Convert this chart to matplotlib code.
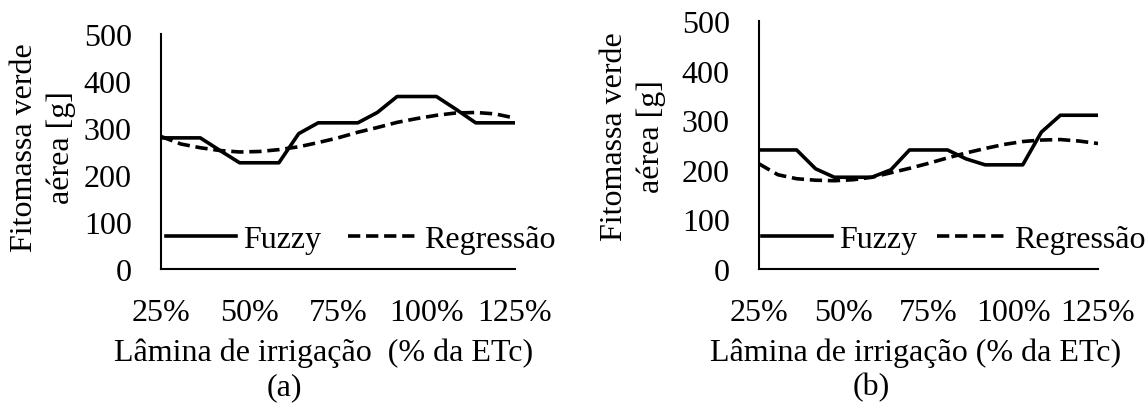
import matplotlib
matplotlib.use('Agg')
import matplotlib.pyplot as plt

plt.rcParams['font.family'] = ['Liberation Serif', 'DejaVu Serif']
fs = 23

W, H = 1148, 410

# irrigation depth (% of ETc)
lamina = [25, 30.6, 36.1, 41.7, 47.2, 52.8, 58.3, 63.9, 69.4, 75, 80.6,
          86.1, 91.7, 97.2, 102.8, 108.3, 113.9, 119.4, 125]

# (a)
fuzzy_a = [279, 279, 279, 252, 226, 226, 226, 288, 311, 311, 311,
           333, 367, 367, 367, 340, 311, 311, 311]
regr_a = [282, 266, 258, 252, 249, 250, 254, 260, 269, 279, 291,
          301, 312, 320, 327, 332, 333, 330, 321]

# (b)
fuzzy_b = [240, 240, 240, 202, 185, 185, 185, 200, 240, 240, 240,
           222, 210, 210, 210, 276, 310, 310, 310]
regr_b = [212, 190, 182, 179, 178, 180, 185, 194, 203, 213, 224,
          234, 243, 251, 257, 260, 261, 258, 253]

xticks = [25, 50, 75, 100, 125]
xticklabels = ['25%', '50%', '75%', '100%', '125%']
yticks = [0, 100, 200, 300, 400, 500]

ylabel = 'Fitomassa verde\naérea [g]'

fig = plt.figure(figsize=(W / 100, H / 100), dpi=100)


def px_axes(x0, x1, y0, y1):
    return fig.add_axes([x0 / W, 1 - y1 / H, (x1 - x0) / W, (y1 - y0) / H])


panels = [
    dict(box=(161, 515, 35, 270), fz=fuzzy_a, rg=regr_a,
         ylab=(43, 148), xlab='Lâmina de irrigação  (% da ETc)', xlab_x=324,
         tag='(a)', tag_x=284, leg_x=166, colsp=0.85),
    dict(box=(759, 1098, 22, 270), fz=fuzzy_b, rg=regr_b,
         ylab=(633, 137), xlab='Lâmina de irrigação (% da ETc)', xlab_x=916,
         tag='(b)', tag_x=871, leg_x=762, colsp=0.65),
]

for p in panels:
    ax = px_axes(*p['box'])
    ax.plot(lamina, p['fz'], color='black', lw=2.6, label='Fuzzy',
            solid_joinstyle='round')
    ax.plot(lamina, p['rg'], color='black', lw=2.6, ls=(0, (3.4, 1.6)),
            label='Regressão')
    ax.set_xlim(25, 125)
    ax.set_ylim(0, 500)
    ax.set_xticks(xticks)
    ax.set_xticklabels(xticklabels)
    ax.set_yticks(yticks)
    ax.tick_params(length=0, labelsize=fs)
    ax.tick_params(axis='y', pad=21)
    ax.tick_params(axis='x', pad=21)
    for s in ['top', 'right']:
        ax.spines[s].set_visible(False)
    for s in ['left', 'bottom']:
        ax.spines[s].set_linewidth(1.5)
        ax.spines[s].set_color('black')

    ax.legend(loc='center left', bbox_to_anchor=(p['leg_x'] / W, 1 - 240 / H),
              bbox_transform=fig.transFigure, ncol=2, frameon=False,
              fontsize=fs, borderpad=0, borderaxespad=0, handlelength=2.2,
              handletextpad=0.2, columnspacing=p['colsp'])

    fig.text(p['ylab'][0] / W, 1 - p['ylab'][1] / H, ylabel, rotation=90,
             ha='center', va='center', fontsize=fs, linespacing=1.3,
             multialignment='center')
    fig.text(p['xlab_x'] / W, 1 - 353 / H, p['xlab'], ha='center',
             va='center', fontsize=fs)
    fig.text(p['tag_x'] / W, 1 - 388 / H, p['tag'], ha='center',
             va='center', fontsize=fs)

fig.savefig('out.png', dpi=100)
